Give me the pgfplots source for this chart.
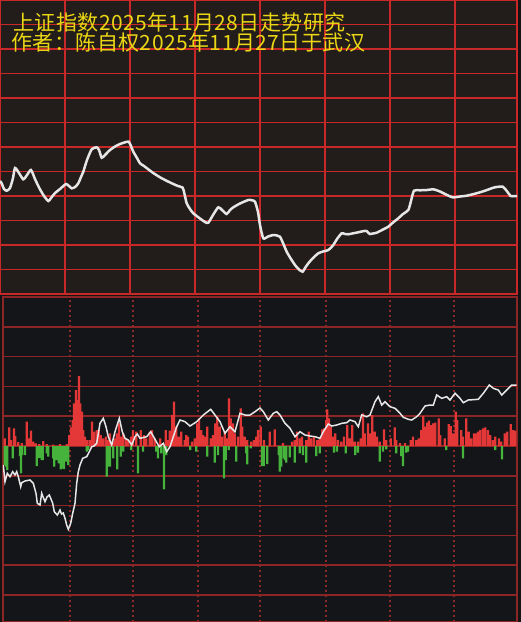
\documentclass[border=0pt]{standalone}
\usepackage{pgfplots}
\pgfplotsset{compat=1.18}
\usepackage{fontspec}
\newfontfamily\cjk[LetterSpace=2.2]{Noto Sans CJK SC}
\definecolor{topbg}{RGB}{34,28,27}
\definecolor{botbg}{RGB}{20,21,24}
\definecolor{gridred}{RGB}{200,40,40}
\definecolor{darkgrid}{RGB}{140,38,38}
\definecolor{dotred}{RGB}{140,42,42}
\definecolor{zerored}{RGB}{215,45,45}
\definecolor{barred}{RGB}{228,55,55}
\definecolor{bargreen}{RGB}{70,180,60}
\definecolor{ttl}{RGB}{235,215,20}
\definecolor{lineW}{RGB}{230,230,230}
\begin{document}
\begin{tikzpicture}[x=1pt,y=1pt]
\useasboundingbox (0,0) rectangle (521,-622);
\fill[black!92] (0,0) rectangle (521,-622);
% ---------- top panel ----------
\begin{axis}[at={(0,0)}, anchor=north west, scale only axis,
  width=517pt, height=294pt,
  xmin=0, xmax=517, ymin=0, ymax=294, y dir=reverse,
  axis background/.style={fill=topbg},
  xtick={65,130,195,260,325,390,455},
  ytick={24.5,49,73.5,98,122.5,147,171.5,196,220.5,245,269.5},
  xticklabels={}, yticklabels={}, major tick length=0pt,
  grid=major, major grid style={gridred, line width=1.2pt},
  axis line style={gridred, line width=1.5pt}]
\addplot[lineW, line width=2.5pt, smooth, tension=0.4] coordinates {
(0,181)(1.7,183.3)(4,189)(6.7,190.7)(10,188)(13,178)(15,168)(19,173)(23.3,179.3)(27,175)(31,170)(35,179)(39.3,188)(44,196)(48.3,201)(51,198)(55,193)(60,189)(66,184)(69,186)(71.7,188.3)(75,187)(78.3,183.3)(81,177)(83.3,171.7)(87,160)(91.7,149.3)(96.7,147.3)(99,150)(101.7,157.7)(105,155)(110,150)(115,146.5)(120,144)(125,142.3)(128.7,141.7)(131,146)(133.3,151.7)(137,158)(140,163.3)(144,166)(148.3,169.3)(154,173.5)(160,177.3)(166,180.5)(173.3,184)(178,186)(182.7,187.7)(184.5,194)(186.7,203.3)(190,209)(193.3,213.3)(200,218.5)(205,222)(208.3,222.7)(213,215)(218.3,207.3)(222,210)(226.7,214)(230,210)(233.3,207.3)(240,203.5)(248.3,200)(252,200.3)(255,201.7)(258,212)(260,225)(263.3,238.3)(268,236.5)(273.3,235)(277,235.5)(280,236.7)(283,243)(286.7,251.7)(291,259)(295,265)(299,269.5)(302.7,271.7)(305,268)(308.3,263.3)(313,258)(318.3,253.3)(323,251.5)(328.3,250)(333.3,245)(337,239)(341.7,233.3)(345,234)(348.3,234.3)(353,233.3)(358.3,232.3)(363,231.2)(366.7,231)(368.5,233)(370,234)(373,233.5)(376.7,232.7)(382,230)(388.3,226.7)(393,222.5)(398.3,218.3)(403,214)(408.3,210)(411,201)(414,190.7)(420,190.3)(427,190)(433.3,189.3)(440,191.5)(446,194.5)(452.7,197.3)(460,196.5)(466.7,195.7)(473,194.2)(480,192.3)(487,190)(493.3,187.7)(498,186.8)(502.7,186.7)(506,190)(510.7,196)(514,196)(517,196)};
\node[anchor=base west, inner sep=0pt, text=ttl, font=\cjk\fontsize{21}{21}\selectfont] at (axis cs:13,30) {上证指数2025年11月28日走势研究};
\node[anchor=base west, inner sep=0pt, text=ttl, font=\cjk\fontsize{21}{21}\selectfont] at (axis cs:11,50) {作者：陈自权2025年11月27日于武汉};
\end{axis}
% ---------- bottom panel ----------
\begin{axis}[at={(3,-297)}, anchor=north west, scale only axis,
  width=514pt, height=325pt,
  xmin=3, xmax=517, ymin=-176, ymax=149,
  axis background/.style={fill=botbg},
  xtick={70,133,198,326,390,454},
  ytick={-149,-119.2,-89.4,-59.6,-29.8,29.8,59.6,89.4,119.2},
  xticklabels={}, yticklabels={}, major tick length=0pt,
  grid=major,
  x grid style={dotred, line width=1.8pt, dash pattern=on 2pt off 3pt},
  y grid style={darkgrid, line width=1.6pt},
  extra x ticks={260}, extra x tick labels={},
  extra x tick style={grid style={darkgrid, solid, line width=1.6pt}},
  extra y ticks={0}, extra y tick labels={},
  extra y tick style={grid style={zerored, solid, line width=4pt}},
  axis line style={darkgrid, line width=1.6pt},
  axis on top=false]
\addplot[ybar, bar width=2.2pt, bar shift=0pt, fill=barred, draw=none] coordinates {
(4.7,7.7)(9.3,18.7)(11,6)(14,17.7)(15.3,10)(18.3,4)(21.7,3)(26.7,24.3)(29,7.7)(31,15.3)(33.3,4.3)(35.7,2.7)(39.3,2)(43.3,5)(46.7,2)(53.3,1.3)(60,2)(66.7,2)(69.3,11)(71,18.7)(72.7,26)(74,42.7)(76,56)(77.3,46)(79,70)(80.3,42.7)(82,34.3)(83.3,16)(85,9.3)(87.3,6)(90,6)(92,24.3)(94,14.3)(96.7,16)(98.7,16)(100.7,11)(103.3,7.7)(106,9.3)(108.3,6)(110,12.7)(112.7,4.3)(115,7.7)(116.7,12.7)(119,22.7)(120.7,9.3)(123.3,12.7)(126,7.7)(128.3,6)
(131.3,9.3)(133,16)(136.3,14.3)(140.7,16)(144,11)(146.3,7.7)(149.7,14.3)(152,16)(154.7,7.7)(160.3,7.7)(165.7,16)(168,6)(169.7,15.3)(172.3,31)(174,44.3)(176.3,19.3)(178.7,9.3)(181.3,14.3)(184.7,6)(186.3,11)(188,9.3)(192,4.3)(194.7,7.7)(197.3,22.7)(199,27.7)(201.3,16)(203,11)(205.3,9.3)(207.3,19.3)(210.7,7.7)(213,11)(215.3,22.7)(217.3,29.3)(219.7,19.3)(222,9.3)(224.7,14.3)(226.7,7.7)(229,47.7)(230.7,27.7)(233,22.7)(234.7,12.7)(238,9.3)(240.7,37.7)(242.3,19.3)(244.7,9.3)(247.3,6)(251.3,4.3)(254,6)(256.3,9.3)(258,16)
(260.7,19.3)(264,6)(269.7,14.3)(274.7,16.7)(283,3)(292,4.3)(294.7,6)(297,14.3)(299.7,7.7)(302,9.3)(306.3,6)(308.7,14.3)(311.3,7.7)(314,9.3)(317.3,6)(319.7,7.7)(322.3,16.7)(324,17.7)(326.3,26)(327.3,36.7)(329,27.7)(330.7,19.3)(333,9.3)(335.3,12.7)(338,6)(341.3,4.3)(344,9.3)(347.3,21)(349.7,7.7)(352.3,21)(354.7,4.3)(358,4.3)(360.7,7.7)(363,32.7)(364.7,12.7)(368,22.7)(369.7,12.7)(372.3,31)(374.7,14.3)(377,9.3)(379.7,4.3)(384,16.7)(386.3,6)
(390.7,7.7)(394.7,18.7)(396.3,6)(400,3)(405,3)(410.7,6)(413,9.3)(416.3,6)(418.7,7.7)(421.3,16)(423.3,30)(425.3,19.3)(427.3,23.3)(429,25.3)(431.3,21)(433.3,22.7)(435.3,23.3)(438.7,27.7)(440.3,11)(444.7,7.7)(448.7,22)(450.7,20)(453.3,12.7)(455.7,34.3)(457.3,26)(461.3,16)(463,9.3)(466.3,27.7)(468.7,14.3)(471.3,7.7)(474,12.7)(476.3,12.7)(478,14.3)(480.3,16)(483,17.7)(485.3,18.7)(488,16)(490.3,11)(493,6)(495.3,9.3)(499,7.7)(501.3,4.3)(504.7,12.7)(507.3,14.3)(510.7,22)(513,16)(515.3,15.3)};
\addplot[ybar, bar width=2.2pt, bar shift=0pt, fill=bargreen, draw=none] coordinates {
(4.7,-19)(6,-20.7)(7.3,-24)(12.7,-12.3)(20,-10)(21,-27.3)(22,-9)(25,-9)(36.7,-20)(39.3,-12)(40.7,-9)(41.7,-14)(42.7,-14)(46.7,-7.3)(48.3,-10.7)(53.3,-12.3)(54.3,-20.7)(56.7,-14)(57.3,-14)(58.7,-17.3)(60.7,-23.3)(62.7,-19)(63.3,-22.3)(64,-23)(66,-15.7)(68.3,-19)(86.7,-5.7)(88.3,-4)(106.7,-30.7)(108.3,-20.7)(110,-20.7)(113.3,-12.3)(117.3,-23.3)(120.7,-10.7)(123.3,-5.7)(131.3,-4)(138,-27.3)(143,-5.7)(156.3,-5.7)(158,-12.3)(161.3,-7.3)(164,-43.3)(166.3,-9)(190.3,-4)(196.3,-5.7)(207.3,-10.7)(214.7,-16.7)(218,-9)(224,-32.3)(225.7,-14)(228.7,-4)(236.3,-15.7)(246.3,-7.3)(247.3,-18.3)(250.7,-2.3)
(262,-20)(263.7,-20)(267.3,-18)(278.7,-9)(279.7,-25.7)(281.3,-20.7)(284,-12.3)(285,-14)(286.3,-16.7)(289.7,-11.3)(294.7,-16.7)(299.7,-7.3)(303,-9)(306.3,-16.7)(316.3,-10)(319.7,-7.3)(334,-6.7)(337,-5.7)(345.7,-7.3)(355.3,-9)(358,-6.7)(379.7,-15.7)(383,-5.7)(386.3,-3.3)(396.3,-7.3)(401.3,-10)(403,-20)(406.3,-6.7)(408,-5.7)(446.3,-4)(463,-12.3)(495.3,-4)(502,-13.3)};
\addplot[lineW, line width=1.5pt] coordinates {
(3.3,-19)(5,-35.7)(7.3,-27.3)(10,-30.7)(12.7,-25.7)(15,-29)(16.7,-25.7)(18.3,-30.7)(20.7,-40.7)(21.7,-36.7)(25,-35)(30,-34)(33.3,-37.3)(36,-47.3)(37.3,-57.3)(40,-59)(41.7,-47.3)(43.5,-52)(45,-55.7)(47,-51)(49.3,-49)(51,-53)(52.7,-57.3)(54.3,-65.7)(57.3,-69)(59,-66)(60,-64)(61.5,-68)(63.3,-67)(65,-72.3)(66.7,-79)(68.3,-83.3)(70.7,-77.3)(72.7,-67.3)(75,-57.3)(76.7,-37.3)(78.3,-25.7)(80,-19)(82.7,-12.3)(86.7,-10.7)(89.3,-5.7)(91.7,-0.7)(94,0)(96.7,2.7)(100,22.7)(103.3,27.7)(106,19.3)(108.3,9.3)(111.7,1)(115,14.3)(119.3,27.7)(122.3,14.3)(125,7.7)(128.3,6)(131.7,1)(135,9.3)(137.3,12)(140,7.7)(146.7,9.3)(150.7,14.3)(155,6.7)(159.3,-0.7)(163.3,2.7)(166.7,-5.7)(170,-0.7)(173.3,9.3)(176.7,19.3)(180,26)(185,24.3)(190,20)(196.7,24.3)(203.3,31)(210.7,36.7)(215,31)(220,24.3)(225,12.7)(230,19.3)(235,14.3)(240,32.7)(245,31)(250,31)(255,34.3)(260,38)(263.3,34.3)(268.3,26)(273.3,32.7)(276.7,34.3)(280,31)(285,22.7)(290,17.7)(295,9.3)(300,14.3)(305,11)(310,10)(315,9.3)(320,7.7)(323.3,14.3)(328.3,22)(331.7,20)(336.7,21)(341.7,22.7)(346.7,23.3)(350,26)(355,24.3)(358.3,19.3)(361.7,31)(366.7,29.3)(370,31)(375,44.3)(378.3,49.3)(381.7,41)(385,44.3)(390,39.3)(395,37.7)(400,32.7)(403.3,28.7)(408.3,26.7)(411.7,26)(416.7,29.3)(420,32.7)(425,40)(430,41)(433.3,41)(436.7,51)(441.7,47.7)(446.7,49.3)(450,46)(455,52.7)(460,47.7)(463.3,43.3)(468.3,46)(478.3,46.7)(483.3,52.7)(489.3,61)(493.3,57.7)(498.3,56)(501.7,51)(506.7,56)(511.7,61)(516.7,61)};
\end{axis}
\end{tikzpicture}
\end{document}
